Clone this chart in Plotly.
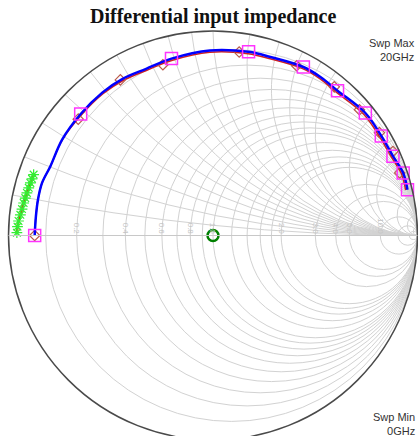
import numpy as np
import plotly.graph_objects as go

# ---- data (reflection coefficient) ----
blue_re = [-0.872, -0.866, -0.856, -0.836, -0.795, -0.737, -0.647, -0.540, -0.442, -0.327, -0.203,
           -0.015, 0.174, 0.281, 0.442, 0.527, 0.609, 0.745, 0.823, 0.880, 0.930, 0.951]
blue_im = [0.000, 0.093, 0.175, 0.257, 0.339, 0.470, 0.594, 0.700, 0.766, 0.815, 0.865,
           0.905, 0.898, 0.873, 0.824, 0.774, 0.708, 0.599, 0.487, 0.388, 0.306, 0.224]

square_re = [-0.872, -0.647, -0.203, 0.174, 0.442, 0.609, 0.745, 0.823, 0.880, 0.930, 0.951]
square_im = [0.000, 0.594, 0.865, 0.898, 0.824, 0.708, 0.599, 0.487, 0.388, 0.306, 0.224]

red_re = [-0.872, -0.866, -0.856, -0.836, -0.795, -0.737, -0.645, -0.538, -0.440, -0.326, -0.202,
          -0.015, 0.172, 0.279, 0.438, 0.522, 0.603, 0.737, 0.815, 0.872, 0.921, 0.942]
red_im = [0.000, 0.093, 0.175, 0.257, 0.339, 0.468, 0.588, 0.693, 0.758, 0.807, 0.856,
          0.896, 0.889, 0.864, 0.816, 0.767, 0.701, 0.593, 0.482, 0.384, 0.303, 0.222]

diamond_re = [-0.872, -0.659, -0.453, -0.245, 0.128, 0.409, 0.593, 0.716, 0.814, 0.880, 0.913]
diamond_im = [0.000, 0.569, 0.761, 0.835, 0.897, 0.830, 0.727, 0.615, 0.503, 0.411, 0.306]

left_re = [-0.877, -0.885, -0.893, -0.901, -0.910, -0.918, -0.926, -0.934, -0.942, -0.951, -0.956, -0.959]
left_im = [0.298, 0.277, 0.257, 0.233, 0.208, 0.183, 0.159, 0.129, 0.101, 0.071, 0.043, 0.014]

center_z = [1.0]

grid_vals = [0.1, 0.2, 0.3, 0.4, 0.5, 0.6, 0.7, 0.8, 0.9, 1.0, 1.2, 1.4, 1.6, 1.8,
             2.0, 3.0, 4.0, 5.0, 10.0, 20.0, 50.0]
label_vals = [0.2, 0.4, 0.6, 0.8, 1.0, 2.0, 3.0, 4.0, 5.0, 10.0]

title_text = "Differential input impedance"
swp_max = ["Swp Max", "20GHz"]
swp_min = ["Swp Min", "0GHz"]


def to_z(re, im):
    g = np.array(re) + 1j * np.array(im)
    z = (1 + g) / (1 - g)
    return z.real, z.imag


# figure is slightly larger than the 418x436 window; the chart circle is cut at the bottom
W, H = 420, 450
fig = go.Figure()

bz = to_z(blue_re, blue_im)
sz = to_z(square_re, square_im)
rz = to_z(red_re, red_im)
dz = to_z(diamond_re, diamond_im)
lz = to_z(left_re, left_im)

fig.add_trace(go.Scattersmith(real=lz[0], imag=lz[1], mode="lines",
                              line=dict(color="#ff0000", width=2.5),
                              subplot="smith", hoverinfo="skip"))
fig.add_trace(go.Scattersmith(real=lz[0], imag=lz[1], mode="markers",
                              marker=dict(symbol="asterisk-open", size=9, color="#33ee33",
                                          line=dict(color="#33ee33", width=1.2)),
                              subplot="smith", hoverinfo="skip"))
fig.add_trace(go.Scattersmith(real=rz[0], imag=rz[1], mode="lines",
                              line=dict(color="#d02020", width=1.5, shape="spline"),
                              subplot="smith", hoverinfo="skip"))
fig.add_trace(go.Scattersmith(real=dz[0], imag=dz[1], mode="markers",
                              marker=dict(symbol="diamond-open", size=8, color="#b85a4a",
                                          line=dict(color="#b85a4a", width=1.2)),
                              subplot="smith", hoverinfo="skip"))
fig.add_trace(go.Scattersmith(real=bz[0], imag=bz[1], mode="lines",
                              line=dict(color="#0000ff", width=2.5, shape="spline"),
                              subplot="smith", hoverinfo="skip"))
fig.add_trace(go.Scattersmith(real=sz[0], imag=sz[1], mode="markers",
                              marker=dict(symbol="square-open", size=12, color="#ff33ff",
                                          line=dict(color="#ff33ff", width=1.5)),
                              subplot="smith", hoverinfo="skip"))
fig.add_trace(go.Scattersmith(real=center_z, imag=[0.0], mode="markers",
                              marker=dict(symbol="circle-open", size=11, color="#008000",
                                          line=dict(color="#008000", width=2.5)),
                              subplot="smith", hoverinfo="skip"))

dom_x = [8.5 / W, 417.5 / W]
dom_y = [1 - 440 / H, 1 - 31 / H]

fig.update_layout(
    width=W, height=H,
    margin=dict(l=0, r=0, t=0, b=0),
    paper_bgcolor="white",
    showlegend=False,
    smith=dict(
        domain=dict(x=dom_x, y=dom_y),
        bgcolor="white",
        realaxis=dict(tickvals=grid_vals, showticklabels=False, showgrid=True,
                      gridcolor="#d2d2d2", gridwidth=1, linecolor="#c8c8c8", linewidth=1, ticks=""),
        imaginaryaxis=dict(tickvals=grid_vals, showticklabels=False, showgrid=True,
                           gridcolor="#d2d2d2", gridwidth=1, linecolor="#4a4a4a", linewidth=1.5, ticks=""),
    ),
    smith2=dict(
        domain=dict(x=dom_x, y=dom_y),
        bgcolor="rgba(0,0,0,0)",
        realaxis=dict(tickvals=label_vals, showticklabels=True, showgrid=False, showline=False,
                      tickformat=".1f", side="top", ticks="",
                      tickfont=dict(family="Liberation Sans, Arial", size=8, color="#c4c4c4")),
        imaginaryaxis=dict(tickvals=label_vals, showticklabels=False, showgrid=False,
                           showline=False, ticks=""),
    ),
    annotations=[
        dict(text="<b>" + title_text + "</b>", x=213 / W, y=1 - 16.5 / H, xref="paper", yref="paper",
             showarrow=False, xanchor="center", yanchor="middle",
             font=dict(family="Liberation Serif, Times New Roman", size=20, color="#111111")),
        dict(text=swp_max[0] + "<br>" + swp_max[1], x=417 / W, y=1 - 34.5 / H, xref="paper", yref="paper",
             showarrow=False, xanchor="right", yanchor="top", align="right",
             font=dict(family="Liberation Sans, Arial", size=11, color="#333333")),
        dict(text=swp_min[0] + "<br>" + swp_min[1], x=417 / W, y=1 - 409 / H, xref="paper", yref="paper",
             showarrow=False, xanchor="right", yanchor="top", align="right",
             font=dict(family="Liberation Sans, Arial", size=11, color="#333333")),
    ],
)

# dummy trace so smith2 is rendered
fig.add_trace(go.Scattersmith(real=[1.0], imag=[0.0], mode="markers",
                              marker=dict(size=1, color="rgba(0,0,0,0)"),
                              subplot="smith2", hoverinfo="skip"))

fig.write_html("out.html", config={"displayModeBar": False},
               post_script="document.body.style.margin='0';document.body.style.overflow='hidden';")
